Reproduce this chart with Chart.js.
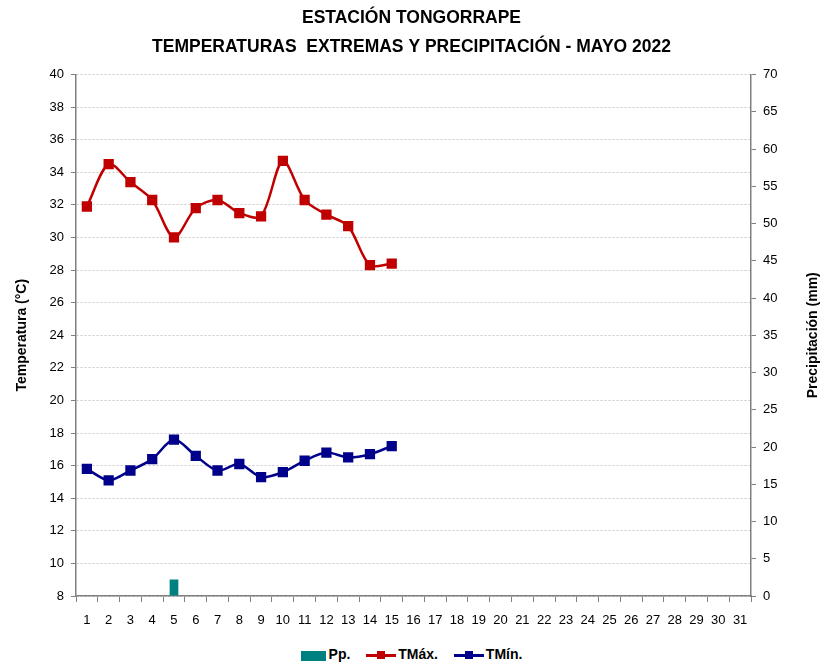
<!DOCTYPE html>
<html>
<head>
<meta charset="utf-8">
<script src="https://cdn.jsdelivr.net/npm/chart.js@4.4.1/dist/chart.umd.min.js"></script>
<style>
  html, body { margin: 0; padding: 0; background: #fff; overflow: hidden; }
  #wrap { position: relative; width: 823px; height: 663px; }
  #legend { position: absolute; left: 0; top: 645px; width: 823px; text-align: center;
    font: bold 14px "Liberation Sans", sans-serif; color: #000; white-space: nowrap; }
  .item { display: inline-block; margin: 0 6px; vertical-align: middle; }
  .box { display: inline-block; width: 25px; height: 10px; background: #008080; vertical-align: middle; margin-right: 3px; }
  .ln { display: inline-block; position: relative; width: 30px; height: 3px; vertical-align: middle; margin-right: 2px; }
  .ln i { position: absolute; left: 11px; top: -3px; width: 8px; height: 8px; }
</style>
</head>
<body>
<div id="wrap">
  <canvas id="chart" width="823" height="640"></canvas>
  <div id="legend">
    <span class="item"><span class="box"></span>Pp.</span>
    <span class="item"><span class="ln" style="background:#c00000"><i style="background:#c00000"></i></span>TMáx.</span>
    <span class="item"><span class="ln" style="background:#00008b"><i style="background:#00008b"></i></span>TMín.</span>
  </div>
</div>
<script>
const days = [];
for (let d = 1; d <= 31; d++) days.push(String(d));

// valores (dias 1-15)
const tMax = [31.9, 34.5, 33.4, 32.3, 30.0, 31.8, 32.3, 31.5, 31.3, 34.7, 32.3, 31.4, 30.7, 28.3, 28.4];
const tMin = [15.8, 15.1, 15.7, 16.4, 17.6, 16.6, 15.7, 16.1, 15.3, 15.6, 16.3, 16.8, 16.5, 16.7, 17.2];
const precip = [0, 0, 0, 0, 2.2, 0, 0, 0, 0, 0, 0, 0, 0, 0, 0];

function pad(arr) {
  const out = arr.slice();
  while (out.length < days.length) out.push(null);
  return out;
}

const FONT = '"Liberation Sans", sans-serif';

const rightTitle = {
  id: 'rightTitle',
  afterDraw(chart) {
    const ctx = chart.ctx;
    const area = chart.chartArea;
    ctx.save();
    ctx.translate(813, (area.top + area.bottom) / 2);
    ctx.rotate(-Math.PI / 2);
    ctx.font = 'bold 14px ' + FONT;
    ctx.fillStyle = '#000';
    ctx.textAlign = 'center';
    ctx.textBaseline = 'middle';
    ctx.fillText('Precipitación (mm)', 0, 0);
    ctx.restore();
  }
};

new Chart(document.getElementById('chart'), {
  type: 'bar',
  data: {
    labels: days,
    datasets: [
      {
        type: 'line',
        label: 'TMáx.',
        data: pad(tMax),
        yAxisID: 'y',
        borderColor: '#c00000',
        backgroundColor: '#c00000',
        borderWidth: 2.5,
        pointStyle: 'rect',
        pointRadius: 5.5,
        tension: 0.3,
        order: 1
      },
      {
        type: 'line',
        label: 'TMín.',
        data: pad(tMin),
        yAxisID: 'y',
        borderColor: '#00008b',
        backgroundColor: '#00008b',
        borderWidth: 2.5,
        pointStyle: 'rect',
        pointRadius: 5.5,
        tension: 0.3,
        order: 2
      },
      {
        label: 'Pp.',
        data: pad(precip),
        yAxisID: 'y1',
        backgroundColor: '#008080',
        barPercentage: 0.4,
        categoryPercentage: 1,
        order: 3
      }
    ]
  },
  options: {
    responsive: false,
    animation: false,
    layout: { padding: 0 },
    plugins: {
      legend: { display: false },
      tooltip: { enabled: false },
      title: {
        display: true,
        text: ['ESTACIÓN TONGORRAPE', 'TEMPERATURAS  EXTREMAS Y PRECIPITACIÓN - MAYO 2022'],
        color: '#000',
        font: { family: FONT, size: 17.5, weight: 'bold', lineHeight: 1.7 },
        padding: { top: 3, bottom: 12 }
      }
    },
    scales: {
      x: {
        offset: true,
        grid: { offset: true, drawOnChartArea: false, drawTicks: true, tickLength: 6, color: '#808080' },
        border: { color: '#808080', width: 1.5 },
        ticks: { color: '#000', font: { family: FONT, size: 13 }, maxRotation: 0, autoSkip: false, padding: 11 },
        afterFit(s) { s.height = 44; }
      },
      y: {
        position: 'left',
        min: 8,
        max: 40,
        ticks: { stepSize: 2, color: '#000', font: { family: FONT, size: 13 }, padding: 7 },
        grid: { color: '#c8c8c8', tickColor: '#808080', tickLength: 5 },
        border: { color: '#808080', width: 1.5, dash: [2, 2] },
        title: { display: true, text: 'Temperatura (°C)', color: '#000', font: { family: FONT, size: 14, weight: 'bold' }, padding: { top: 14, bottom: 0 } },
        afterFit(s) { s.width = 76; }
      },
      y1: {
        position: 'right',
        min: 0,
        max: 70,
        ticks: { stepSize: 5, color: '#000', font: { family: FONT, size: 13 }, padding: 7 },
        grid: { drawOnChartArea: false, tickLength: 5, color: '#808080' },
        border: { color: '#808080', width: 1.5 },
        afterFit(s) { s.width = 72; }
      }
    }
  },
  plugins: [rightTitle]
});
</script>
</body>
</html>
